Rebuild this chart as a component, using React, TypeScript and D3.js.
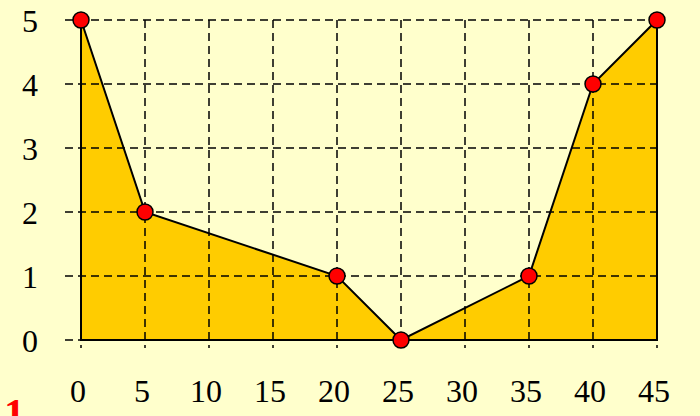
import React, { useEffect, useRef } from "react";
import * as d3 from "d3";

const xValues = [0, 5, 20, 25, 35, 40, 45];
const yValues = [5, 2, 1, 0, 1, 4, 5];
const xTicks = [0, 5, 10, 15, 20, 25, 30, 35, 40, 45];
const yTicks = [0, 1, 2, 3, 4, 5];

const width = 700;
const height = 416;
const margin = { top: 20, right: 43, bottom: 76, left: 81 };

export default function App() {
  const ref = useRef<SVGSVGElement | null>(null);

  useEffect(() => {
    document.body.style.margin = "0";
    const svg = d3.select(ref.current);
    svg.selectAll("*").remove();

    const x = d3.scaleLinear().domain([0, 45]).range([margin.left, width - margin.right]);
    const y = d3.scaleLinear().domain([0, 5]).range([height - margin.bottom, margin.top]);
    const data = xValues.map((v, i) => ({ x: v, y: yValues[i] }));

    svg.append("rect").attr("width", width).attr("height", height).attr("fill", "#FFFFCC");

    // filled area under the line
    svg.append("path")
      .datum(data)
      .attr("fill", "#FFCC00")
      .attr("d", d3.area<any>().x(d => x(d.x)).y0(y(0)).y1(d => y(d.y)));

    // dashed grid, sticking out a little past the axes like tick marks
    svg.append("g").selectAll("line").data(yTicks).join("line")
      .attr("x1", x(0) - 16).attr("x2", x(45))
      .attr("y1", d => y(d)).attr("y2", d => y(d))
      .attr("stroke", "#000").attr("stroke-width", 1.5).attr("stroke-dasharray", "8,5");

    svg.append("g").selectAll("line").data(xTicks).join("line")
      .attr("x1", d => x(d)).attr("x2", d => x(d))
      .attr("y1", y(5)).attr("y2", y(0) + 8)
      .attr("stroke", "#000").attr("stroke-width", 1.5).attr("stroke-dasharray", "8,5");

    // outline of the whole area: closed polygon
    svg.append("path")
      .datum(data)
      .attr("fill", "none")
      .attr("stroke", "#000")
      .attr("stroke-width", 2)
      .attr("d", d3.area<any>().x(d => x(d.x)).y0(y(0)).y1(d => y(d.y)));

    svg.append("g").selectAll("circle").data(data).join("circle")
      .attr("cx", d => x(d.x)).attr("cy", d => y(d.y)).attr("r", 8)
      .attr("fill", "#FF0000").attr("stroke", "#000").attr("stroke-width", 1.5);

    svg.append("g").selectAll("text").data(yTicks).join("text")
      .attr("x", 38).attr("y", d => y(d) + 12)
      .attr("text-anchor", "end")
      .style("font", "32px 'Times New Roman', 'Liberation Serif', serif")
      .text(d => d);

    svg.append("g").selectAll("text").data(xTicks).join("text")
      .attr("x", d => x(d) - 3).attr("y", 402)
      .attr("text-anchor", "middle")
      .style("font", "32px 'Times New Roman', 'Liberation Serif', serif")
      .text(d => d);

    // red marker in the corner, clipped by the bottom edge as in the original
    svg.append("text")
      .attr("x", 4).attr("y", 428)
      .attr("fill", "#FF0000")
      .style("font", "bold 42px 'Times New Roman', 'Liberation Serif', serif")
      .text("1");
  }, []);

  return <svg ref={ref} width={width} height={height} style={{ display: "block" }} />;
}
